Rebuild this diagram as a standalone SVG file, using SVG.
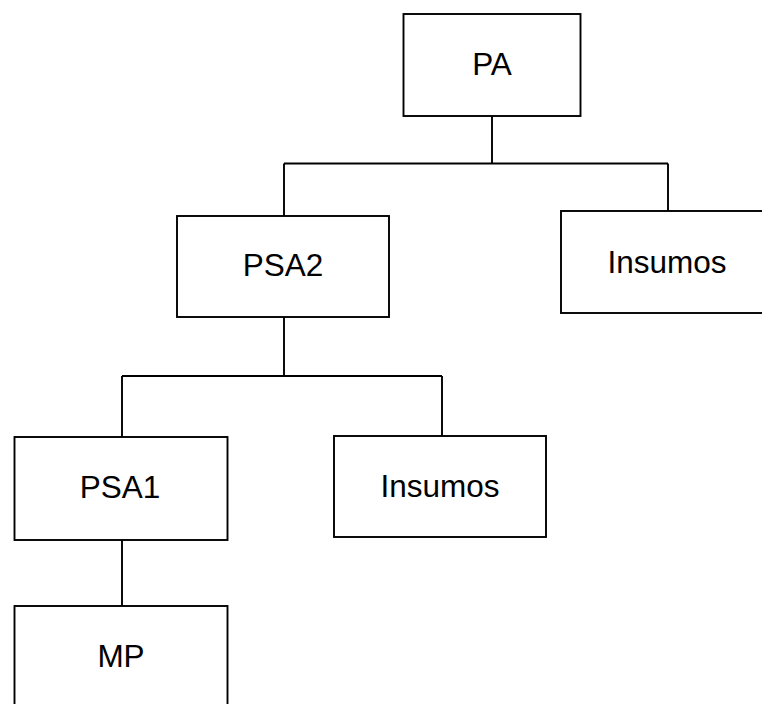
<svg xmlns="http://www.w3.org/2000/svg" width="762" height="704" viewBox="0 0 762 704">
  <style>
    .box { fill: #ffffff; stroke: #000000; stroke-width: 1.9; }
    .lbl { font-family: "Liberation Sans", Arial, sans-serif; font-size: 31.5px; fill: #000000; text-anchor: middle; }
    .wire { fill: none; stroke: #000000; stroke-width: 1.9; }
  </style>
  <rect width="762" height="704" fill="#ffffff"/>

  <!-- tree connectors -->
  <g id="connectors">
    <path class="wire" d="M492,116 V163.5 M284,163.5 H668 M284,163.5 V216 M668,163.5 V211"/>
    <path class="wire" d="M284,317 V376 M122,376 H442 M122,376 V437 M442,376 V436"/>
    <path class="wire" d="M122,540 V606"/>
  </g>

  <g id="pa">
    <rect class="box" x="403.5" y="14" width="177" height="102"/>
    <text class="lbl" x="492" y="75">PA</text>
  </g>

  <g id="psa2">
    <rect class="box" x="177" y="216" width="212" height="101"/>
    <text class="lbl" x="283" y="276">PSA2</text>
  </g>

  <g id="insumos-1">
    <rect class="box" x="561" y="211" width="212" height="102"/>
    <text class="lbl" x="667" y="273">Insumos</text>
  </g>

  <g id="psa1">
    <rect class="box" x="14.5" y="437" width="213" height="103"/>
    <text class="lbl" x="120" y="498">PSA1</text>
  </g>

  <g id="insumos-2">
    <rect class="box" x="334" y="436" width="212" height="101"/>
    <text class="lbl" x="440" y="497">Insumos</text>
  </g>

  <g id="mp">
    <rect class="box" x="14.5" y="606" width="213" height="102"/>
    <text class="lbl" x="121" y="667">MP</text>
  </g>
</svg>
